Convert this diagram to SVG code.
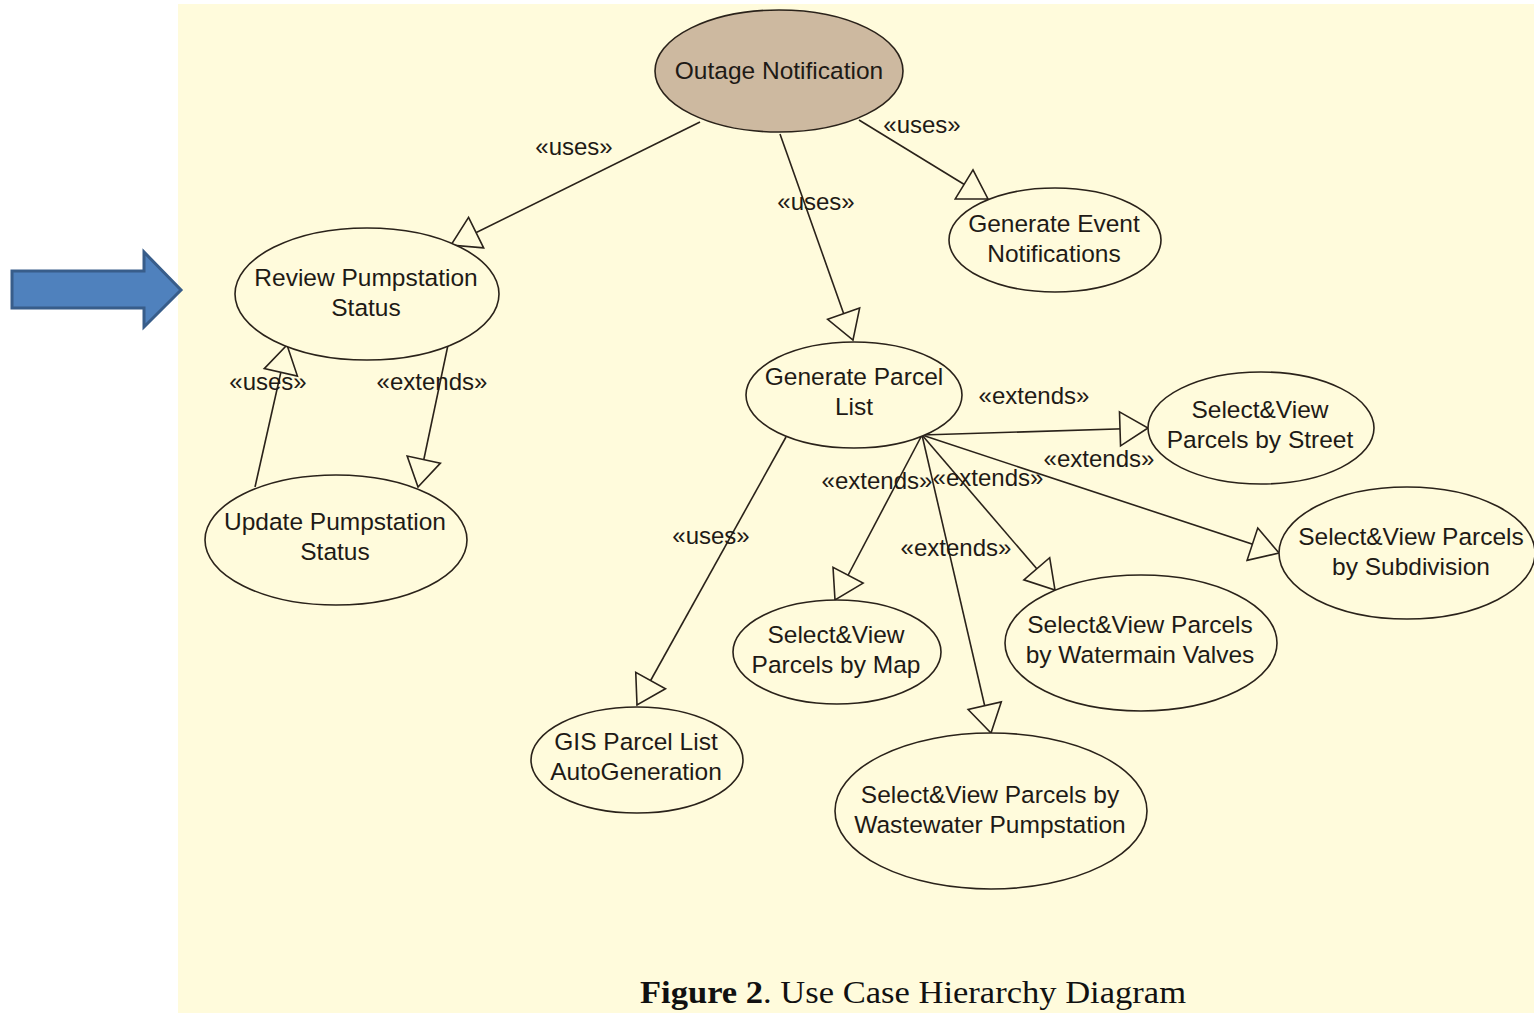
<svg xmlns="http://www.w3.org/2000/svg" width="1534" height="1013" viewBox="0 0 1534 1013">
<style>
.uc{fill:#FFFBDC;stroke:#2a221a;stroke-width:1.6}
.root{fill:#CDB9A0;stroke:#2a221a;stroke-width:1.6}
.t{font-family:"Liberation Sans",Arial,sans-serif;font-size:24.5px;fill:#1e1a16;text-anchor:middle}
.lbl{font-family:"Liberation Sans",Arial,sans-serif;font-size:24px;fill:#1e1a16;text-anchor:middle}
.c line{stroke:#2a221a;stroke-width:1.6;marker-end:url(#tri)}
</style>
<defs>
<marker id="tri" markerUnits="userSpaceOnUse" viewBox="-2 -19 32 38" markerWidth="32" markerHeight="38" refX="28" refY="0" orient="auto" overflow="visible">
<path d="M0,-17 L28,0 L0,17 Z" fill="#FFFBDC" stroke="#2a221a" stroke-width="1.6"/>
</marker>
</defs>
<rect x="0" y="0" width="1534" height="1013" fill="#FFFFFF"/>
<rect x="178" y="4" width="1356" height="1009" fill="#FFFBDC"/>
<g id="pointer-arrow">
<path d="M12,271 L144,271 L144,252 L181,290 L144,327 L144,308 L12,308 Z" fill="#4F81BD" stroke="#385D8A" stroke-width="3"/>
</g>
<g id="connectors" class="c">
<line x1="700" y1="122" x2="451" y2="245"/>
<line x1="859" y1="120" x2="988" y2="199"/>
<line x1="780" y1="134" x2="853" y2="340"/>
<line x1="255" y1="487" x2="287" y2="345"/>
<line x1="448" y1="345" x2="418" y2="487"/>
<line x1="786" y1="437" x2="637" y2="705"/>
<line x1="922" y1="435" x2="1148" y2="428"/>
<line x1="922" y1="435" x2="1279" y2="553"/>
<line x1="922" y1="435" x2="835" y2="600"/>
<line x1="922" y1="435" x2="991" y2="733"/>
<line x1="922" y1="435" x2="1055" y2="590"/>
</g>
<g id="connector-labels">
<text class="lbl" x="574" y="155">«uses»</text>
<text class="lbl" x="922" y="133">«uses»</text>
<text class="lbl" x="816" y="210">«uses»</text>
<text class="lbl" x="268" y="390">«uses»</text>
<text class="lbl" x="432" y="390">«extends»</text>
<text class="lbl" x="1034" y="404">«extends»</text>
<text class="lbl" x="1099" y="467">«extends»</text>
<text class="lbl" x="877" y="489">«extends»</text>
<text class="lbl" x="988" y="486">«extends»</text>
<text class="lbl" x="956" y="556">«extends»</text>
<text class="lbl" x="711" y="544">«uses»</text>
</g>
<g id="outage-notification">
<ellipse class="root" cx="779" cy="71" rx="124" ry="61"/>
<text class="t" x="779" y="79">Outage Notification</text>
</g>
<g id="review-pumpstation-status">
<ellipse class="uc" cx="367" cy="294" rx="132" ry="66"/>
<text class="t" x="366" y="286">Review Pumpstation</text>
<text class="t" x="366" y="316">Status</text>
</g>
<g id="update-pumpstation-status">
<ellipse class="uc" cx="336" cy="540" rx="131" ry="65"/>
<text class="t" x="335" y="530">Update Pumpstation</text>
<text class="t" x="335" y="560">Status</text>
</g>
<g id="generate-parcel-list">
<ellipse class="uc" cx="854" cy="395" rx="108" ry="53"/>
<text class="t" x="854" y="385">Generate Parcel</text>
<text class="t" x="854" y="415">List</text>
</g>
<g id="generate-event-notifications">
<ellipse class="uc" cx="1055" cy="240" rx="106" ry="52"/>
<text class="t" x="1054" y="232">Generate Event</text>
<text class="t" x="1054" y="262">Notifications</text>
</g>
<g id="parcels-by-street">
<ellipse class="uc" cx="1261" cy="428" rx="113" ry="56"/>
<text class="t" x="1260" y="418">Select&amp;View</text>
<text class="t" x="1260" y="448">Parcels by Street</text>
</g>
<g id="parcels-by-subdivision">
<ellipse class="uc" cx="1407" cy="553" rx="128" ry="66"/>
<text class="t" x="1411" y="545">Select&amp;View Parcels</text>
<text class="t" x="1411" y="575">by Subdivision</text>
</g>
<g id="parcels-by-map">
<ellipse class="uc" cx="837" cy="652" rx="104" ry="52"/>
<text class="t" x="836" y="643">Select&amp;View</text>
<text class="t" x="836" y="673">Parcels by Map</text>
</g>
<g id="gis-parcel-list">
<ellipse class="uc" cx="637" cy="760" rx="106" ry="53"/>
<text class="t" x="636" y="750">GIS Parcel List</text>
<text class="t" x="636" y="780">AutoGeneration</text>
</g>
<g id="parcels-by-watermain-valves">
<ellipse class="uc" cx="1141" cy="643" rx="136" ry="68"/>
<text class="t" x="1140" y="633">Select&amp;View Parcels</text>
<text class="t" x="1140" y="663">by Watermain Valves</text>
</g>
<g id="parcels-by-wastewater-pumpstation">
<ellipse class="uc" cx="991" cy="811" rx="156" ry="78"/>
<text class="t" x="990" y="803">Select&amp;View Parcels by</text>
<text class="t" x="990" y="833">Wastewater Pumpstation</text>
</g>
<g id="caption">
<text x="640" y="1003" font-family="'Liberation Serif','Times New Roman',serif" font-size="32" fill="#111" textLength="546" lengthAdjust="spacingAndGlyphs"><tspan font-weight="bold">Figure 2</tspan>. Use Case Hierarchy Diagram</text>
</g>
</svg>
